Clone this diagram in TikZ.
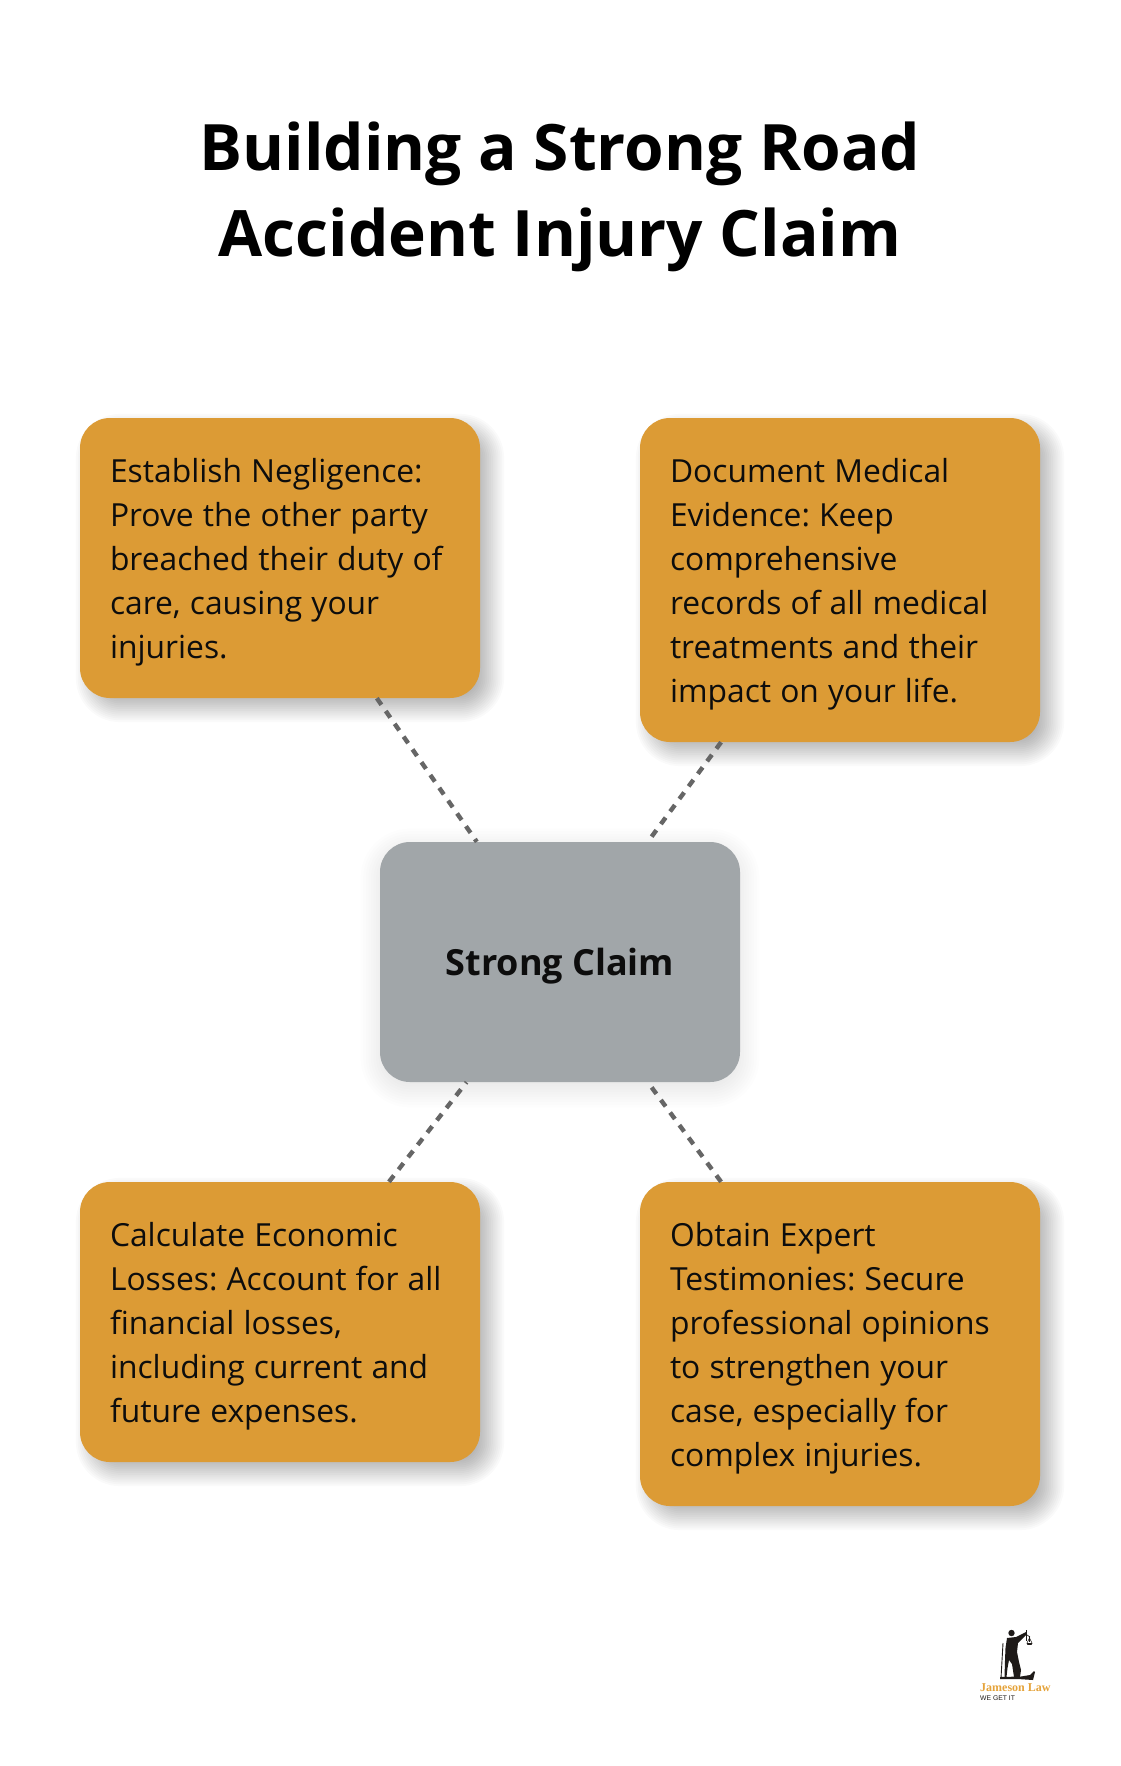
\documentclass[tikz,border=0pt]{standalone}
\usepackage{fontspec}
\setmainfont{Open Sans}
\newfontfamily\logoserif{Liberation Serif}
\newfontfamily\logosans{Liberation Sans}
\definecolor{cardorange}{HTML}{DC9B35}
\definecolor{hubgrey}{HTML}{A1A6A9}
\definecolor{dashgrey}{HTML}{666666}
\definecolor{logoblack}{HTML}{1E1A18}
\definecolor{logoorange}{HTML}{E5A33A}
\newcommand{\softshadow}[8]{%
  \foreach \k in {1,...,16}{
    \pgfmathsetmacro{\grow}{#7*(1-\k/8.5)}
    \pgfmathsetmacro{\rad}{max(4,30+\grow)}
    \fill[black,opacity=#8,rounded corners=\rad pt]
      ({#1+#5-\grow},{#2+#6-\grow}) rectangle ({#3+#5+\grow},{#4+#6+\grow});
  }}
\tikzset{
  x=1pt,y=-1pt,
  card/.style={fill=cardorange,rounded corners=30pt,minimum width=400pt,inner sep=0pt,
    text width=340pt,align=left,font=\fontsize{31.8pt}{44pt}\selectfont\frenchspacing,text=black!95,
    execute at begin node={\spaceskip=9.1pt\relax\rule{0pt}{32pt}}},
  hub/.style={fill=hubgrey,rounded corners=30pt,minimum width=360pt,minimum height=240pt,inner sep=0pt,
    text depth=0pt,font=\fontsize{36pt}{44pt}\selectfont\bfseries,text=black!95},
  titletext/.style={align=center,inner sep=0pt,font=\fontsize{64pt}{86pt}\selectfont\bfseries,text=black},
  link/.style={draw=dashgrey,line width=4.4pt,dash pattern=on 8pt off 7.6pt}
}
\begin{document}
\begin{tikzpicture}
\useasboundingbox (0,0) rectangle (1120,1766);
\fill[white] (0,0) rectangle (1120,1766);
% soft shadows
\softshadow{380}{842}{740}{1082}{0}{6}{22}{0.0085}
\softshadow{80}{418}{480}{698}{10}{10}{16}{0.02}
\softshadow{640}{418}{1040}{742}{10}{10}{16}{0.02}
\softshadow{80}{1182}{480}{1462}{10}{10}{16}{0.02}
\softshadow{640}{1182}{1040}{1506}{10}{10}{16}{0.02}
% nodes
\node[card,minimum height=280pt] (neg) at (280,558) {Establish Negligence:\\Prove the other party\\breached their duty of\\care, causing your\\injuries.};
\node[card,minimum height=324pt] (med) at (840,580) {Document Medical\\Evidence: Keep\\comprehensive\\records of all medical\\treatments and their\\impact on your life.};
\node[card,minimum height=280pt] (eco) at (280,1322) {Calculate Economic\\Losses: Account for all\\financial losses,\\including current and\\future expenses.};
\node[card,minimum height=324pt] (exp) at (840,1344) {Obtain Expert\\Testimonies: Secure\\professional opinions\\to strengthen your\\case, especially for\\complex injuries.};
\node[hub] (hub) at (560,962) {Strong Claim};
\node[titletext] (title) at (560,197) {Building a Strong Road\\Accident Injury Claim};
% connectors
\draw[link] (neg) -- (hub);
\draw[link] (med) -- (hub);
\draw[link] (eco) -- (hub);
\draw[link] (exp) -- (hub);
% logo
\node[inner sep=0pt,anchor=west,text=logoorange,font=\logoserif\bfseries\fontsize{12pt}{12pt}\selectfont] (logoname) at (980,1688) {Jameson Law};
\node[inner sep=0pt,anchor=west,text=logoblack,font=\logosans\fontsize{6.8pt}{7pt}\selectfont] (logotag) at (980,1698) {WE GET IT};
\fill[logoblack] (1011.5,1633) circle (3.2);
% torso and arm
\fill[logoblack] (1007,1638) -- (1016,1637) -- (1026,1632) -- (1026.5,1634.5) -- (1018,1643) -- (1017,1652)
  -- (1019,1662) -- (1021,1670) -- (1020,1677) -- (1014,1677) -- (1012,1664) -- (1009,1660) -- (1007.5,1668)
  -- (1006.5,1677) -- (1004.5,1677) -- (1005,1660) -- (1005.5,1648) -- cycle;
% the L of the logo
\fill[logoblack] (1000,1677) -- (1021,1676.5) -- (1030,1675) -- (1034,1671) -- (1035,1672) -- (1033,1680)
  -- (1018,1679) -- (1000,1679) -- cycle;
% sword
\draw[logoblack,line width=0.9pt] (1003,1643) -- (1001,1678);
% scales
\draw[logoblack,line width=0.6pt] (1026,1630) -- (1026,1641) (1029.5,1636) -- (1029.5,1642);
\draw[logoblack,line width=0.6pt] (1025,1633.5) -- (1030,1637);
\draw[logoblack,line width=0.5pt] (1027,1643) -- (1029.5,1638) -- (1032,1643);
\fill[logoblack] (1026.5,1643) -- (1032.5,1643) -- (1031.5,1644.8) -- (1027.5,1644.8) -- cycle;
\end{tikzpicture}
\end{document}
